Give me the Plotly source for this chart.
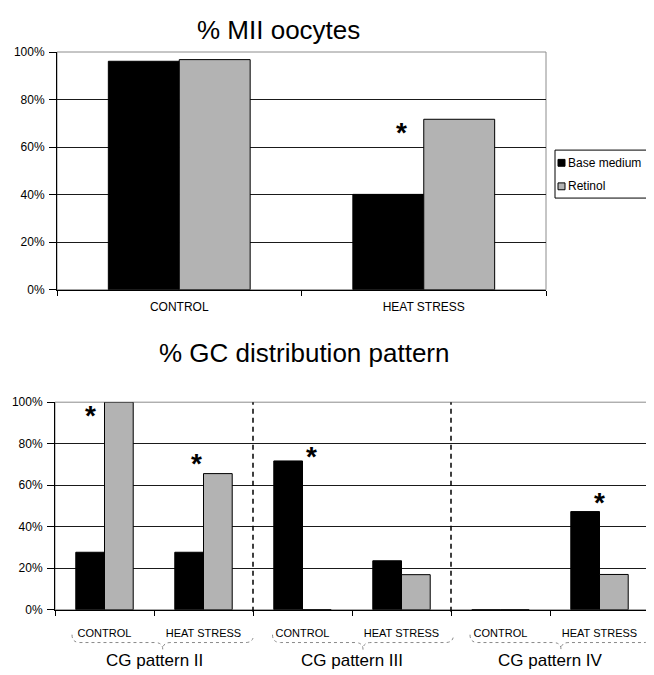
import plotly.graph_objects as go

# page body has an 8px margin: the figure is sized so it ends at the window edge
OFF = 8
W, H = 654 - OFF, 675 - OFF

# ---------------- data ----------------
series_names = ["Base medium", "Retinol"]

top_title = "% MII oocytes"
top_categories = ["CONTROL", "HEAT STRESS"]
top_base_medium = [96.1, 40.1]
top_retinol = [96.8, 71.7]
top_sig_position = [0.91]      # category index position of the asterisk
top_sig_value = [68.0]

bottom_title = "% GC distribution pattern"
bottom_conditions = ["CONTROL", "HEAT STRESS", "CONTROL", "HEAT STRESS", "CONTROL", "HEAT STRESS"]
bottom_groups = ["CG pattern II", "CG pattern III", "CG pattern IV"]
bottom_base_medium = [27.7, 27.7, 71.7, 23.6, 0.0, 47.3]
bottom_retinol = [100.0, 65.6, 0.0, 16.9, 0.0, 17.0]
bottom_sig_position = [-0.146, 0.934, 2.093, 5.0]
bottom_sig_value = [95.5, 72.2, 75.7, 53.7]

y_ticks = [0, 20, 40, 60, 80, 100]
y_ticklabels = [f"{v}%" for v in y_ticks]

# ---------------- style ----------------
FONT = "Arial, 'Liberation Sans', sans-serif"
BLACK = "#000000"
GRAY = "#b3b3b3"
FRAME = "#8c8c8c"


def px(x):
    return (x - OFF) / W


def py(y):
    return 1 - (y - OFF) / H


fig = go.Figure()

# top chart bars
fig.add_trace(go.Bar(x=top_categories, y=top_base_medium, name=series_names[0],
                     marker=dict(color=BLACK, line=dict(color=BLACK, width=1)),
                     xaxis="x", yaxis="y", showlegend=False))
fig.add_trace(go.Bar(x=top_categories, y=top_retinol, name=series_names[1],
                     marker=dict(color=GRAY, line=dict(color=BLACK, width=1)),
                     xaxis="x", yaxis="y", showlegend=False))

# bottom chart bars
bottom_x = list(range(len(bottom_conditions)))
fig.add_trace(go.Bar(x=bottom_x, y=bottom_base_medium, name=series_names[0],
                     marker=dict(color=BLACK, line=dict(color=BLACK, width=1)),
                     xaxis="x2", yaxis="y2", showlegend=False))
fig.add_trace(go.Bar(x=bottom_x, y=bottom_retinol, name=series_names[1],
                     marker=dict(color=GRAY, line=dict(color=BLACK, width=1)),
                     xaxis="x2", yaxis="y2", showlegend=False))

yaxis_common = dict(range=[0, 100], tickmode="array", tickvals=y_ticks, ticktext=y_ticklabels,
                    ticks="outside", ticklen=7, tickcolor=BLACK, showline=True, linecolor=BLACK,
                    linewidth=1, showgrid=True, gridcolor="#1a1a1a", gridwidth=1, zeroline=False,
                    tickfont=dict(family=FONT, size=12, color=BLACK), ticklabelstandoff=2,
                    fixedrange=True)

fig.update_layout(
    width=W, height=H,
    margin=dict(l=0, r=0, t=0, b=0),
    paper_bgcolor="white", plot_bgcolor="white",
    barmode="group", bargap=0.42, bargroupgap=0,
    font=dict(family=FONT, color=BLACK),
    showlegend=False,
    xaxis=dict(domain=[px(57), px(546)], type="category", tickson="boundaries",
               ticks="outside", ticklen=5, tickcolor=BLACK, showline=True, linecolor=BLACK,
               linewidth=1, showgrid=False, zeroline=False,
               tickfont=dict(family=FONT, size=12, color=BLACK), ticklabelstandoff=6,
               anchor="y", fixedrange=True),
    yaxis=dict(domain=[py(288.6), py(45.8)], anchor="x", **yaxis_common),
    xaxis2=dict(domain=[px(55), px(649)], range=[-0.5, 5.5], tickmode="array",
                tickvals=bottom_x, ticktext=bottom_conditions, ticks="",
                minor=dict(tickmode="array", tickvals=[i - 0.5 for i in range(7)],
                           ticks="outside", ticklen=5, tickcolor=BLACK, showgrid=False),
                showline=True, linecolor=BLACK, linewidth=1, showgrid=False, zeroline=False,
                tickfont=dict(family=FONT, size=11, color=BLACK), ticklabelstandoff=13,
                anchor="y2", fixedrange=True),
    yaxis2=dict(domain=[py(615.5), py(403.5)], anchor="x2", **yaxis_common),
)

shapes = []
# plot frames (gray top/right border)
for xr, yr in (("x domain", "y domain"), ("x2 domain", "y2 domain")):
    shapes.append(dict(type="rect", xref=xr, yref=yr, x0=0, x1=1, y0=0, y1=1,
                       line=dict(color=FRAME, width=1), layer="below"))
# dashed separators between CG patterns
for xs in (1.5, 3.5):
    shapes.append(dict(type="line", xref="x2", yref="y2 domain", x0=xs, x1=xs, y0=-0.01, y1=1,
                       line=dict(color=BLACK, width=1.5, dash="5px,4px"), layer="above"))
# braces under each CG pattern
brace_spans = [(72, 253.5), (272.5, 453.5), (470, 652)]
for x0, x1 in brace_spans:
    tip = (x0 + x1) / 2
    ya, yb, yc = 641, 649, 656
    d = (f"M {px(x0)},{py(ya)} Q {px(x0)},{py(yb)} {px(x0 + 8)},{py(yb)} "
         f"L {px(tip - 8)},{py(yb)} Q {px(tip)},{py(yb)} {px(tip)},{py(yc)} "
         f"Q {px(tip)},{py(yb)} {px(tip + 8)},{py(yb)} "
         f"L {px(x1 - 8)},{py(yb)} Q {px(x1)},{py(yb)} {px(x1)},{py(ya)}")
    shapes.append(dict(type="path", xref="paper", yref="paper", path=d,
                       line=dict(color="#8a8a8a", width=1, dash="dot")))
# legend frame and swatches
shapes.append(dict(type="rect", xref="paper", yref="paper", x0=px(555), x1=px(651),
                   y0=py(195), y1=py(146), line=dict(color=BLACK, width=1),
                   fillcolor="white"))
for yc, col in ((159, BLACK), (183, GRAY)):
    shapes.append(dict(type="rect", xref="paper", yref="paper", x0=px(558), x1=px(565),
                       y0=py(yc + 3.5), y1=py(yc - 3.5), line=dict(color=BLACK, width=1),
                       fillcolor=col))
fig.update_layout(shapes=shapes)

ann = []
ann.append(dict(text=top_title, xref="paper", yref="paper", x=px(278.5), y=py(23),
                xanchor="center", yanchor="middle", showarrow=False,
                font=dict(family=FONT, size=26, color=BLACK)))
ann.append(dict(text=bottom_title, xref="paper", yref="paper", x=px(303.5), y=py(353),
                xanchor="center", yanchor="middle", showarrow=False,
                font=dict(family=FONT, size=26, color=BLACK)))
for xs, ys in zip(top_sig_position, top_sig_value):
    ann.append(dict(text="<b>*</b>", xref="x", yref="y", x=xs, y=ys, yshift=-4,
                    showarrow=False, font=dict(family=FONT, size=28, color=BLACK)))
for xs, ys in zip(bottom_sig_position, bottom_sig_value):
    ann.append(dict(text="<b>*</b>", xref="x2", yref="y2", x=xs, y=ys, yshift=-4,
                    showarrow=False, font=dict(family=FONT, size=28, color=BLACK)))
for i, g in enumerate(bottom_groups):
    ann.append(dict(text=g, xref="x2", yref="paper", x=2 * i + 0.5, y=py(667),
                    xanchor="center", yanchor="middle", showarrow=False,
                    font=dict(family=FONT, size=17, color=BLACK)))
for name, yc in zip(series_names, (159, 183)):
    ann.append(dict(text=name, xref="paper", yref="paper", x=px(566), y=py(yc),
                    xanchor="left", yanchor="middle", showarrow=False,
                    font=dict(family=FONT, size=12, color=BLACK)))
fig.update_layout(annotations=ann)

fig.write_html("out.html")
